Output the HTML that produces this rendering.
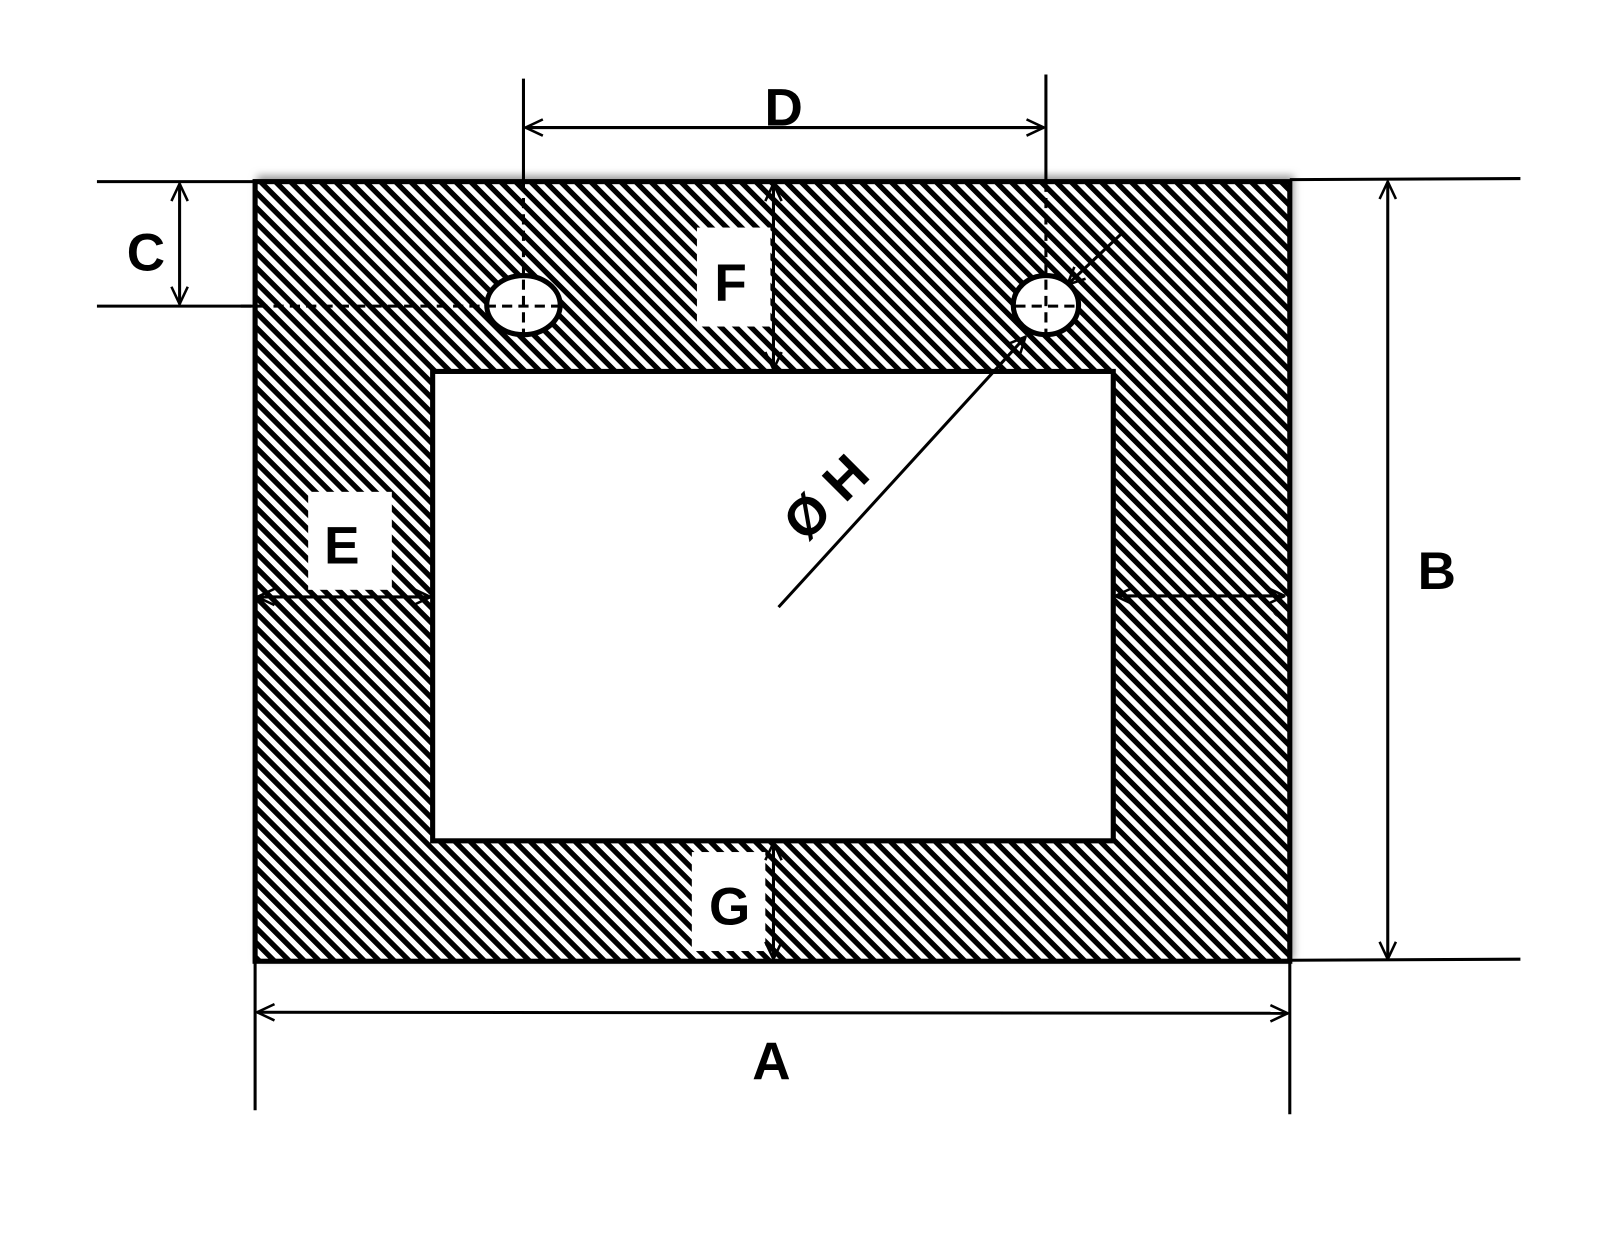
<!DOCTYPE html>
<html><head><style>html,body{margin:0;padding:0;background:#fff}</style></head><body>
<svg width="1600" height="1249" viewBox="0 0 1568 1224" preserveAspectRatio="none" xmlns="http://www.w3.org/2000/svg">
<defs>
<pattern id="h" patternUnits="userSpaceOnUse" width="10.4" height="10.4" patternTransform="rotate(-45)">
<rect width="10.4" height="10.4" fill="#fff"/>
<rect x="0" y="0" width="5.2" height="10.4" fill="#000"/>
</pattern>
<marker id="ar" viewBox="0 0 20 20" refX="19" refY="10" markerWidth="20" markerHeight="20" markerUnits="userSpaceOnUse" orient="auto-start-reverse">
<path d="M2,2 L19,10 L2,18" fill="none" stroke="#000" stroke-width="2.5"/>
</marker>
<filter id="sh" x="-5%" y="-5%" width="110%" height="110%"><feGaussianBlur stdDeviation="4"/></filter>
</defs>
<rect x="252" y="172" width="1016" height="768" fill="#999" filter="url(#sh)"/>
<rect x="250" y="178" width="1014" height="764" fill="url(#h)" stroke="#000" stroke-width="5"/>
<rect x="424" y="364" width="667" height="460" fill="#fff" stroke="#000" stroke-width="5"/>
<rect x="683" y="223" width="72" height="97" fill="#fff"/>
<rect x="302" y="482" width="82" height="96" fill="#fff"/>
<rect x="678" y="835" width="72" height="97" fill="#fff"/>
<ellipse cx="513" cy="299" rx="36" ry="29" fill="#fff" stroke="#000" stroke-width="5"/>
<ellipse cx="1025" cy="299" rx="32" ry="29" fill="#fff" stroke="#000" stroke-width="5"/>
<g stroke="#000" stroke-width="3" fill="none">
<line x1="513" y1="77" x2="513" y2="178"/>
<line x1="1025" y1="73" x2="1025" y2="178"/>
<line x1="513" y1="178" x2="513" y2="328" stroke-dasharray="10,6"/>
<line x1="1025" y1="178" x2="1025" y2="326" stroke-dasharray="10,6"/>
<line x1="236" y1="300" x2="550" y2="300" stroke-dasharray="10,6"/>
<line x1="995" y1="300" x2="1055" y2="300" stroke-dasharray="10,6"/>
<line x1="515" y1="125" x2="1023" y2="125" marker-start="url(#ar)" marker-end="url(#ar)"/>
<line x1="95" y1="178" x2="250" y2="178"/>
<line x1="95" y1="300" x2="250" y2="300"/>
<line x1="176" y1="180" x2="176" y2="298" marker-start="url(#ar)" marker-end="url(#ar)"/>
<line x1="1264" y1="176" x2="1490" y2="175"/>
<line x1="1264" y1="941" x2="1490" y2="940"/>
<line x1="1360" y1="178" x2="1360" y2="940" marker-start="url(#ar)" marker-end="url(#ar)"/>
<line x1="250" y1="942" x2="250" y2="1088"/>
<line x1="1264" y1="942" x2="1264" y2="1092"/>
<line x1="252" y1="992" x2="1262" y2="993" marker-start="url(#ar)" marker-end="url(#ar)"/>
<line x1="758" y1="180" x2="758" y2="362" marker-start="url(#ar)" marker-end="url(#ar)"/>
<line x1="758" y1="826" x2="758" y2="940" marker-start="url(#ar)" marker-end="url(#ar)"/>
<line x1="252" y1="585" x2="422" y2="585" marker-start="url(#ar)" marker-end="url(#ar)"/>
<line x1="1093" y1="584" x2="1259" y2="584" marker-start="url(#ar)" marker-end="url(#ar)"/>
<line x1="763" y1="595" x2="1005" y2="330" marker-end="url(#ar)"/>
<line x1="1098" y1="230" x2="1046" y2="279" marker-end="url(#ar)"/>
</g>
<g font-family="Liberation Sans, sans-serif" font-weight="bold" font-size="52" text-anchor="middle" fill="#000">
<text x="768" y="123">D</text>
<text x="143" y="265">C</text>
<text x="716" y="295">F</text>
<text x="335" y="552">E</text>
<text x="1408" y="577">B</text>
<text x="756" y="1058">A</text>
<text x="715" y="906">G</text>
<text x="0" y="0" transform="translate(822,500) rotate(-45)">Ø H</text>
</g>
</svg>
</body></html>
